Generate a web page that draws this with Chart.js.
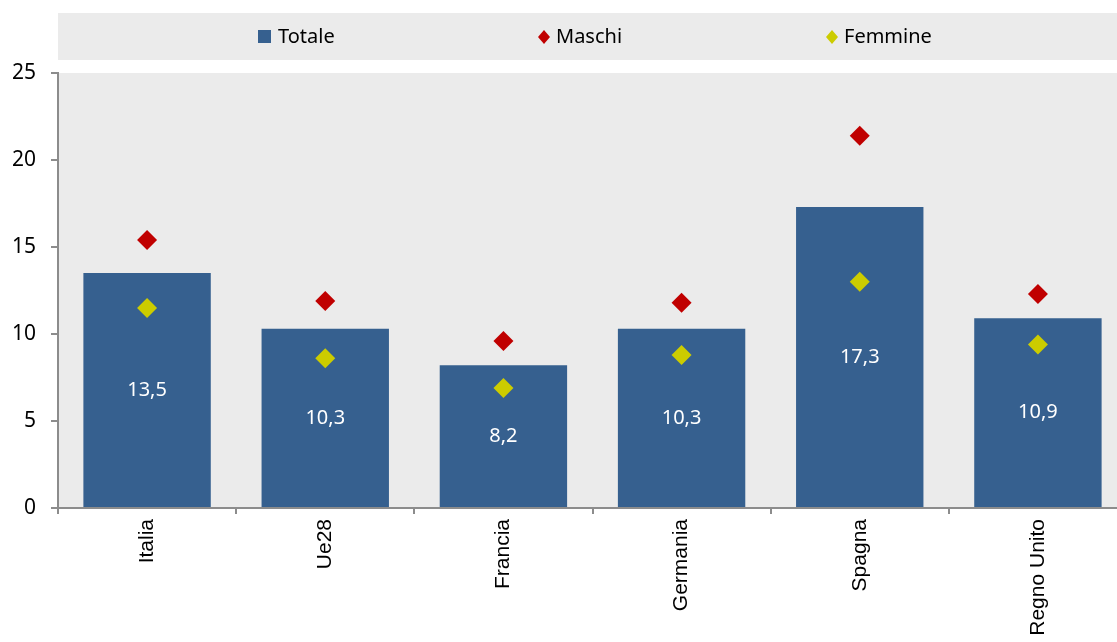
<!DOCTYPE html>
<html>
<head>
<meta charset="utf-8">
<script src="https://cdn.jsdelivr.net/npm/chart.js@4.4.1/dist/chart.umd.min.js"></script>
<style>
  html, body { margin:0; padding:0; background:#fff; overflow:hidden; }
  #wrap { width:1117px; height:642px; overflow:hidden; }
</style>
</head>
<body>
<!-- canvas is 10px wider than the window: the plot runs past the right edge, as in the original -->
<div id="wrap"><canvas id="chart" width="1127" height="642"></canvas></div>
<script>
// ── Data ─────────────────────────────────────────────
const paesi   = ['Italia', 'Ue28', 'Francia', 'Germania', 'Spagna', 'Regno Unito'];
const totale  = [13.5, 10.3, 8.2, 10.3, 17.3, 10.9];
const maschi  = [15.4, 11.9, 9.6, 11.8, 21.4, 12.3];
const femmine = [11.5, 8.6, 6.9, 8.8, 13.0, 9.4];
const yTicks  = [0, 5, 10, 15, 20, 25];

const fmtIt = v => v.toFixed(1).replace('.', ',');

// where each legend entry starts in the grey strip
const legendX = [258, 538, 826];

// grey background behind the legend strip and the plot area, plus the legend itself
const bgLegend = {
  id: 'bgLegend',
  beforeDraw(chart) {
    const { ctx, chartArea: a } = chart;
    ctx.save();
    ctx.fillStyle = '#EBEBEB';
    ctx.fillRect(a.left, 13, chart.width - a.left, 47);
    ctx.fillRect(a.left, a.top, a.right - a.left, a.bottom - a.top);

    ctx.font = '20px "Noto Sans"';
    ctx.textBaseline = 'middle';
    const y = 37;
    chart.data.datasets.forEach((ds, i) => {
      let x = legendX[i];
      ctx.fillStyle = ds.backgroundColor;
      if (ds.pointStyle === 'rect') {
        ctx.fillRect(x, y - 7, 13, 13);
        x += 13 + 7;
      } else {
        ctx.beginPath();
        ctx.moveTo(x + 6, y - 7);
        ctx.lineTo(x + 12, y);
        ctx.lineTo(x + 6, y + 7);
        ctx.lineTo(x, y);
        ctx.closePath();
        ctx.fill();
        x += 12 + 6;
      }
      ctx.fillStyle = '#000';
      ctx.fillText(ds.label, x, y);
    });
    ctx.restore();
  }
};

// white value labels in the middle of the bars
const barLabels = {
  id: 'barLabels',
  afterDatasetsDraw(chart) {
    const { ctx } = chart;
    const meta = chart.getDatasetMeta(0);
    ctx.save();
    ctx.fillStyle = '#ffffff';
    ctx.font = '20px "Noto Sans"';
    ctx.textAlign = 'center';
    ctx.textBaseline = 'middle';
    meta.data.forEach((bar, i) => {
      ctx.fillText(fmtIt(totale[i]), bar.x, (bar.y + bar.base) / 2);
    });
    ctx.restore();
  }
};

new Chart(document.getElementById('chart'), {
  type: 'bar',
  data: {
    labels: paesi,
    datasets: [
      {
        label: 'Totale',
        data: totale,
        backgroundColor: '#36608F',
        pointStyle: 'rect',
        categoryPercentage: 0.715,
        barPercentage: 1,
        order: 1,
      },
      {
        type: 'line',
        label: 'Maschi',
        data: maschi,
        showLine: false,
        pointStyle: 'rectRot',
        pointRadius: 10,
        pointBackgroundColor: '#C00000',
        pointBorderWidth: 0,
        backgroundColor: '#C00000',
        borderColor: '#C00000',
        order: 0,
      },
      {
        type: 'line',
        label: 'Femmine',
        data: femmine,
        showLine: false,
        pointStyle: 'rectRot',
        pointRadius: 10,
        pointBackgroundColor: '#CCCC00',
        pointBorderWidth: 0,
        backgroundColor: '#CCCC00',
        borderColor: '#CCCC00',
        order: 0,
      }
    ]
  },
  options: {
    responsive: false,
    animation: false,
    layout: { autoPadding: false, padding: { top: 73, right: 0, left: 0, bottom: 0 } },
    plugins: {
      tooltip: { enabled: false },
      legend: { display: false }
    },
    scales: {
      x: {
        grid: { offset: true, drawOnChartArea: false, drawTicks: true, tickLength: 6, color: '#8C8C8C', lineWidth: 2 },
        border: { color: '#8C8C8C', width: 2 },
        ticks: {
          color: '#000',
          maxRotation: 90, minRotation: 90,
          padding: 5,
          font: { family: 'Liberation Sans', size: 21 },
        },
        afterFit(scale) {
          scale.height = 134;
          scale.paddingLeft = 0;
          scale.paddingRight = 0;
        }
      },
      y: {
        min: 0, max: 25,
        afterBuildTicks(scale) { scale.ticks = yTicks.map(v => ({ value: v })); },
        grid: { drawOnChartArea: false, drawTicks: true, tickLength: 7, color: '#8C8C8C', lineWidth: 2 },
        border: { color: '#8C8C8C', width: 2 },
        ticks: {
          color: '#000',
          padding: 15,
          font: { family: 'Noto Sans', size: 21 },
        },
        afterFit(scale) {
          scale.width = 58;
          scale.paddingTop = 0;
          scale.paddingBottom = 0;
        }
      }
    }
  },
  plugins: [bgLegend, barLabels]
});
</script>
</body>
</html>
